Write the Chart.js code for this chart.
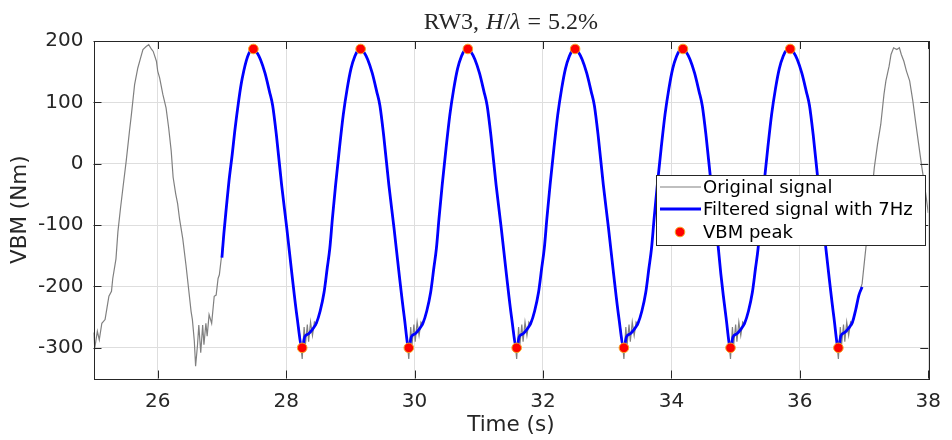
<!DOCTYPE html>
<html>
  <head>
    <meta charset="UTF-8">
    <title>RW3 VBM</title>
    <script src="https://cdn.jsdelivr.net/npm/chart.js"></script>
    <style>
      body { margin: 0; background: #fff; }
      canvas { display: block; }
    </style>
  </head>
  <body>
    <canvas id="vbmChart" width="952" height="440"></canvas>

    <script>
      // Original (raw) VBM signal
      const origTime = [
        25.00, 25.02, 25.06, 25.09, 25.13, 25.18, 25.21, 25.24, 25.28, 25.30, 25.35, 25.38, 25.42, 25.46, 25.51, 25.56,
        25.59, 25.64, 25.69, 25.74, 25.77, 25.82, 25.86, 25.90, 25.93, 25.98, 26.00, 26.03, 26.08, 26.13, 26.17, 26.21,
        26.24, 26.28, 26.31, 26.34, 26.39, 26.44, 26.48, 26.52, 26.54, 26.57, 26.59, 26.62, 26.64, 26.67, 26.70, 26.72,
        26.75, 26.77, 26.80, 26.84, 26.88, 26.91, 26.94, 26.96, 26.99,
        27.03, 27.07, 27.11, 27.16, 27.20, 27.26, 27.30, 27.34, 27.38, 27.42,
        27.49, 27.54, 27.60, 27.67, 27.74, 27.79, 27.85, 27.93, 28.01, 28.09, 28.17, 28.22,
        28.25, 28.28, 28.30, 28.33, 28.35, 28.38, 28.41, 28.44, 28.47, 28.53, 28.59, 28.64, 28.68, 28.72, 28.77, 28.83, 28.89, 28.95, 29.01, 29.07, 29.12,
        29.16, 29.21, 29.27, 29.34, 29.41, 29.46, 29.52, 29.60, 29.68, 29.76, 29.84, 29.88,
        29.91, 29.94, 29.96, 29.99, 30.01, 30.04, 30.07, 30.10, 30.13, 30.19, 30.25, 30.30, 30.34, 30.38, 30.43, 30.49, 30.55, 30.61, 30.67, 30.73, 30.78,
        30.83, 30.88, 30.94, 31.01, 31.08, 31.13, 31.19, 31.27, 31.35, 31.43, 31.51, 31.56,
        31.59, 31.62, 31.64, 31.67, 31.69, 31.72, 31.75, 31.78, 31.81, 31.87, 31.93, 31.98, 32.02, 32.06, 32.11, 32.17, 32.23, 32.29, 32.35, 32.41, 32.46,
        32.50, 32.55, 32.61, 32.68, 32.75, 32.80, 32.86, 32.94, 33.02, 33.10, 33.18, 33.23,
        33.26, 33.29, 33.31, 33.34, 33.36, 33.39, 33.42, 33.45, 33.48, 33.54, 33.60, 33.65, 33.69, 33.73, 33.78, 33.84, 33.90, 33.96, 34.02, 34.08, 34.13,
        34.18, 34.23, 34.29, 34.36, 34.43, 34.48, 34.54, 34.62, 34.70, 34.77, 34.85, 34.89,
        34.92, 34.95, 34.97, 35.00, 35.02, 35.05, 35.08, 35.11, 35.14, 35.20, 35.26, 35.31, 35.35, 35.39, 35.44, 35.50, 35.56, 35.62, 35.68, 35.74, 35.79,
        35.85, 35.90, 35.96, 36.03, 36.10, 36.15, 36.21, 36.29, 36.37, 36.45, 36.53, 36.57,
        36.60, 36.63, 36.65, 36.68, 36.70, 36.73, 36.76, 36.79, 36.82, 36.87, 36.92, 36.97,
        37.03, 37.08, 37.13, 37.16, 37.21, 37.26, 37.31, 37.34, 37.39, 37.42, 37.46, 37.51, 37.55, 37.58, 37.62, 37.66,
        37.71, 37.76, 37.80, 37.85, 37.90, 37.94, 38.00
      ];
      const origVbm = [
        -275, -300, -273, -287, -260, -254, -235, -216, -208, -187, -155, -111, -73, -38, 5, 53,
        80, 129, 156, 175, 186, 191, 194, 187, 183, 167, 151, 140, 113, 91, 59, 21,
        -22, -49, -65, -90, -122, -165, -203, -241, -254, -289, -330, -295, -263, -308, -263, -295,
        -260, -281, -246, -260, -216, -214, -187, -181, -154,
        -114, -70, -28, 15, 53, 102, 130, 151, 168, 180,
        188, 182, 170, 148, 118, 95, 45, -35, -105, -180, -250, -285,
        -318, -266, -295, -262, -290, -258, -280, -258, -262, -240, -210, -170, -138, -90, -35, 25, 80, 122, 155, 175, 185,
        188, 182, 170, 148, 118, 95, 45, -35, -105, -180, -250, -285,
        -318, -266, -295, -262, -290, -258, -280, -258, -262, -240, -210, -170, -138, -90, -35, 25, 80, 122, 155, 175, 185,
        188, 182, 170, 148, 118, 95, 45, -35, -105, -180, -250, -285,
        -318, -266, -295, -262, -290, -258, -280, -258, -262, -240, -210, -170, -138, -90, -35, 25, 80, 122, 155, 175, 185,
        188, 182, 170, 148, 118, 95, 45, -35, -105, -180, -250, -285,
        -318, -266, -295, -262, -290, -258, -280, -258, -262, -240, -210, -170, -138, -90, -35, 25, 80, 122, 155, 175, 185,
        188, 182, 170, 148, 118, 95, 45, -35, -105, -180, -250, -285,
        -318, -266, -295, -262, -290, -258, -280, -258, -262, -240, -210, -170, -138, -90, -35, 25, 80, 122, 155, 175, 185,
        188, 182, 170, 148, 118, 95, 45, -35, -105, -180, -250, -285,
        -318, -266, -295, -262, -290, -258, -280, -258, -262, -238, -214, -195,
        -135, -92, -38, -6, 32, 64, 113, 135, 159, 178, 189, 186, 189, 178, 167, 151,
        135, 102, 70, 32, -6, -33, -80
      ];

      // Filtered signal (7 Hz low-pass)
      const filtTime = [
        27.00, 27.03, 27.07, 27.11, 27.16, 27.20, 27.26, 27.30, 27.34, 27.38, 27.42,
        27.49, 27.54, 27.60, 27.67, 27.74, 27.79, 27.85, 27.93, 28.01, 28.09, 28.17,
        28.25, 28.29, 28.35, 28.41, 28.47, 28.53, 28.59, 28.64, 28.68, 28.72, 28.77, 28.83, 28.89, 28.95, 29.01, 29.07, 29.12,
        29.16, 29.21, 29.27, 29.34, 29.41, 29.46, 29.52, 29.60, 29.68, 29.76, 29.84,
        29.91, 29.95, 30.01, 30.07, 30.13, 30.19, 30.25, 30.30, 30.34, 30.38, 30.43, 30.49, 30.55, 30.61, 30.67, 30.73, 30.78,
        30.83, 30.88, 30.94, 31.01, 31.08, 31.13, 31.19, 31.27, 31.35, 31.43, 31.51,
        31.59, 31.63, 31.69, 31.75, 31.81, 31.87, 31.93, 31.98, 32.02, 32.06, 32.11, 32.17, 32.23, 32.29, 32.35, 32.41, 32.46,
        32.50, 32.55, 32.61, 32.68, 32.75, 32.80, 32.86, 32.94, 33.02, 33.10, 33.18,
        33.26, 33.30, 33.36, 33.42, 33.48, 33.54, 33.60, 33.65, 33.69, 33.73, 33.78, 33.84, 33.90, 33.96, 34.02, 34.08, 34.13,
        34.18, 34.23, 34.29, 34.36, 34.43, 34.48, 34.54, 34.62, 34.70, 34.77, 34.85,
        34.92, 34.96, 35.02, 35.08, 35.14, 35.20, 35.26, 35.31, 35.35, 35.39, 35.44, 35.50, 35.56, 35.62, 35.68, 35.74, 35.79,
        35.85, 35.90, 35.96, 36.03, 36.10, 36.15, 36.21, 36.29, 36.37, 36.45, 36.53,
        36.60, 36.64, 36.70, 36.76, 36.82, 36.87, 36.92, 36.97
      ];
      const filtVbm = [
        -153, -114, -70, -28, 15, 53, 102, 130, 151, 168, 180,
        188, 182, 170, 148, 118, 95, 45, -35, -105, -180, -250,
        -300, -282, -277, -270, -260, -240, -210, -170, -138, -90, -35, 25, 80, 122, 155, 175, 185,
        188, 182, 170, 148, 118, 95, 45, -35, -105, -180, -250,
        -300, -282, -277, -270, -260, -240, -210, -170, -138, -90, -35, 25, 80, 122, 155, 175, 185,
        188, 182, 170, 148, 118, 95, 45, -35, -105, -180, -250,
        -300, -282, -277, -270, -260, -240, -210, -170, -138, -90, -35, 25, 80, 122, 155, 175, 185,
        188, 182, 170, 148, 118, 95, 45, -35, -105, -180, -250,
        -300, -282, -277, -270, -260, -240, -210, -170, -138, -90, -35, 25, 80, 122, 155, 175, 185,
        188, 182, 170, 148, 118, 95, 45, -35, -105, -180, -250,
        -300, -282, -277, -270, -260, -240, -210, -170, -138, -90, -35, 25, 80, 122, 155, 175, 185,
        188, 182, 170, 148, 118, 95, 45, -35, -105, -180, -250,
        -300, -280, -275, -268, -258, -238, -214, -201
      ];

      // VBM peaks (crests and troughs)
      const peakTime = [27.49, 28.25, 29.16, 29.91, 30.83, 31.59, 32.50, 33.26, 34.18, 34.92, 35.85, 36.60];
      const peakVbm = [187, -300, 187, -300, 187, -300, 187, -300, 187, -300, 187, -300];

      const xTickVals = [26, 28, 30, 32, 34, 36, 38];
      const yTickVals = [-300, -200, -100, 0, 100, 200];

      const seriesLabels = ['Original signal', 'Filtered signal with 7Hz', 'VBM peak'];

      const toPoints = (xs, ys) => xs.map((t, i) => ({ x: t, y: ys[i] }));

      Chart.defaults.font.family = '"DejaVu Sans", sans-serif';
      Chart.defaults.color = '#262626';

      // MATLAB-like box, inward ticks, title and legend
      const matlabFrame = {
        id: 'matlabFrame',
        afterDatasetsDraw(chart) {
          const { ctx, chartArea: a, scales: { x, y } } = chart;
          ctx.save();

          ctx.strokeStyle = '#262626';
          ctx.lineWidth = 1;
          ctx.strokeRect(Math.round(a.left) + 0.5, Math.round(a.top) + 0.5,
            Math.round(a.right - a.left), Math.round(a.bottom - a.top));

          const tl = 8;
          ctx.beginPath();
          xTickVals.forEach(v => {
            const px = Math.round(x.getPixelForValue(v)) + 0.5;
            ctx.moveTo(px, a.bottom); ctx.lineTo(px, a.bottom - tl);
            ctx.moveTo(px, a.top); ctx.lineTo(px, a.top + tl);
          });
          yTickVals.forEach(v => {
            const py = Math.round(y.getPixelForValue(v)) + 0.5;
            ctx.moveTo(a.left, py); ctx.lineTo(a.left + tl, py);
            ctx.moveTo(a.right, py); ctx.lineTo(a.right - tl, py);
          });
          ctx.stroke();

          // title: RW3, H/λ = 5.2%  (H and λ in math italic)
          const parts = [['RW3,', '', 7], ['H', 'italic ', 0], ['/', '', 0], ['λ', 'italic ', 7], ['=', '', 7], ['5.2%', '', 0]];
          const size = 24;
          let total = 0;
          parts.forEach(p => {
            ctx.font = p[1] + size + 'px "Liberation Serif", serif';
            total += ctx.measureText(p[0]).width + p[2];
          });
          let tx = (a.left + a.right) / 2 - total / 2;
          ctx.fillStyle = '#262626';
          ctx.textBaseline = 'alphabetic';
          ctx.textAlign = 'left';
          parts.forEach(p => {
            ctx.font = p[1] + size + 'px "Liberation Serif", serif';
            ctx.fillText(p[0], tx, 29);
            tx += ctx.measureText(p[0]).width + p[2];
          });

          // legend box
          const lx = 656, ly = 175, lw = 269, lh = 70;
          ctx.fillStyle = '#fff';
          ctx.fillRect(lx, ly, lw, lh);
          ctx.strokeStyle = '#262626';
          ctx.lineWidth = 1;
          ctx.strokeRect(lx + 0.5, ly + 0.5, lw, lh);

          const ds = chart.data.datasets;
          const rows = [187, 209, 232];
          ctx.font = '18px "DejaVu Sans", sans-serif';
          ctx.textBaseline = 'middle';
          rows.forEach((ry, i) => {
            const d = ds[i];
            if (i < 2) {
              ctx.strokeStyle = d.borderColor;
              ctx.lineWidth = d.borderWidth;
              ctx.beginPath();
              ctx.moveTo(lx + 4, ry); ctx.lineTo(lx + 45, ry);
              ctx.stroke();
            } else {
              ctx.fillStyle = d.pointBackgroundColor;
              ctx.strokeStyle = d.pointBorderColor;
              ctx.lineWidth = d.pointBorderWidth;
              ctx.beginPath();
              ctx.arc(lx + 24, ry, d.pointRadius, 0, Math.PI * 2);
              ctx.fill(); ctx.stroke();
            }
            ctx.fillStyle = '#000';
            ctx.fillText(seriesLabels[i], lx + 47, ry + 1);
          });

          ctx.restore();
        }
      };

      new Chart(document.getElementById('vbmChart').getContext('2d'), {
        type: 'line',
        data: {
          datasets: [
            {
              label: seriesLabels[0],
              data: toPoints(origTime, origVbm),
              borderColor: '#808080',
              borderWidth: 1.2,
              pointRadius: 0,
              tension: 0,
              order: 3
            },
            {
              label: seriesLabels[1],
              data: toPoints(filtTime, filtVbm),
              borderColor: '#0000ff',
              borderWidth: 2.8,
              pointRadius: 0,
              cubicInterpolationMode: 'monotone',
              order: 2
            },
            {
              label: seriesLabels[2],
              data: toPoints(peakTime, peakVbm),
              showLine: false,
              pointRadius: 4.8,
              pointBackgroundColor: '#ff0000',
              pointBorderColor: '#f5a623',
              pointBorderWidth: 1,
              order: 1
            }
          ]
        },
        options: {
          responsive: false,
          devicePixelRatio: 1,
          animation: false,
          layout: { padding: { top: 41, right: 16, left: 0, bottom: 0 } },
          plugins: {
            legend: { display: false },
            title: { display: false },
            tooltip: { enabled: false }
          },
          scales: {
            x: {
              type: 'linear',
              min: 25,
              max: 38,
              afterBuildTicks: s => { s.ticks = xTickVals.map(v => ({ value: v })); },
              afterFit: s => { s.height = 61.5; },
              grid: { color: '#dedede', drawTicks: false },
              border: { display: false },
              ticks: { font: { size: 20 }, color: '#262626', padding: 11, maxRotation: 0 },
              title: { display: true, text: 'Time (s)', font: { size: 21.5 }, color: '#262626', padding: { top: 0, bottom: 2 } }
            },
            y: {
              type: 'linear',
              min: -350,
              max: 200,
              afterBuildTicks: s => { s.ticks = yTickVals.map(v => ({ value: v })); },
              afterFit: s => { s.width = 93.5; },
              grid: { color: '#dedede', drawTicks: false },
              border: { display: false },
              ticks: { font: { size: 20 }, color: '#262626', padding: 10 },
              title: { display: true, text: 'VBM (Nm)', font: { size: 21.5 }, color: '#262626', padding: { top: 8, bottom: 0 } }
            }
          }
        },
        plugins: [matlabFrame]
      });
    </script>
  </body>
</html>
